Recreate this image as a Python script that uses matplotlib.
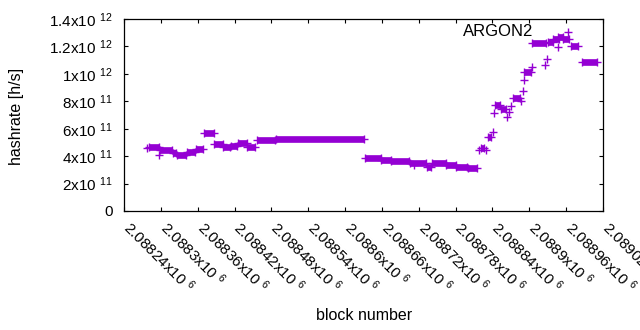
import numpy as np
import matplotlib
matplotlib.use('Agg')
import matplotlib.pyplot as plt
import matplotlib.transforms as mtransforms

plt.rcParams['font.family'] = ['Liberation Sans', 'DejaVu Sans']
plt.rcParams['mathtext.fontset'] = 'custom'
plt.rcParams['mathtext.rm'] = 'Liberation Sans'
plt.rcParams['mathtext.default'] = 'regular'

# отрезки с постоянным хешрейтом: начало, конец, значение
seg_start = [2088280, 2088299, 2088319, 2088326, 2088342, 2088357, 2088371, 2088387,
             2088402, 2088414, 2088425, 2088441, 2088457, 2088487, 2088632, 2088659,
             2088675, 2088705, 2088733, 2088742, 2088765, 2088781, 2088800, 2088821,
             2088832, 2088844, 2088854, 2088873, 2088892, 2088905, 2088931, 2088939,
             2088947, 2088955, 2088968, 2088986]
seg_end = [2088297, 2088318, 2088325, 2088341, 2088356, 2088369, 2088386, 2088401,
           2088413, 2088424, 2088440, 2088454, 2088486, 2088630, 2088658, 2088674,
           2088704, 2088731, 2088740, 2088764, 2088780, 2088799, 2088815, 2088827,
           2088838, 2088853, 2088862, 2088885, 2088903, 2088927, 2088938, 2088948,
           2088955, 2088965, 2088979, 2089011]
seg_value = [4.64e11, 4.42e11, 4.20e11, 4.06e11, 4.32e11, 4.50e11, 5.66e11, 4.86e11,
             4.67e11, 4.74e11, 4.93e11, 4.67e11, 5.15e11, 5.25e11, 3.84e11, 3.74e11,
             3.67e11, 3.48e11, 3.18e11, 3.49e11, 3.35e11, 3.23e11, 3.10e11, 4.60e11,
             5.37e11, 7.71e11, 7.42e11, 8.26e11, 1.016e12, 1.223e12, 1.230e12, 1.254e12,
             1.267e12, 1.254e12, 1.201e12, 1.084e12]

# отдельные точки
pt_block = [2088277, 2088297, 2088712, 2088818, 2088830, 2088841, 2088842, 2088863,
            2088867, 2088871, 2088886, 2088889, 2088891, 2088904, 2088925, 2088929,
            2088947, 2088963]
pt_value = [4.59e11, 4.10e11, 3.35e11, 4.45e11, 4.45e11, 5.78e11, 7.17e11, 6.83e11,
            7.24e11, 7.66e11, 8.04e11, 8.75e11, 9.53e11, 1.048e12, 1.065e12, 1.106e12,
            1.198e12, 1.303e12]

xticks = [2088240 + 60 * i for i in range(14)]
yticks = [0, 2e11, 4e11, 6e11, 8e11, 1e12, 1.2e12, 1.4e12]
ytick_labels = ['0', '2x10 $^{11}$', '4x10 $^{11}$', '6x10 $^{11}$', '8x10 $^{11}$',
                '1x10 $^{12}$', '1.2x10 $^{12}$', '1.4x10 $^{12}$']

color = '#9400d3'

fig = plt.figure(figsize=(6.4, 3.3), dpi=100)
ax = fig.add_axes([124 / 640, 1 - 211 / 330, 479 / 640, 192 / 330])

ax.hlines(seg_value, seg_start, seg_end, colors=color, lw=4.8)
ax.plot(seg_start + seg_end, seg_value + seg_value, '+', color=color, ms=5.5, mew=1.0)
ax.plot(pt_block, pt_value, '+', color=color, ms=5.5, mew=1.0)

ax.set_xlim(2088240, 2089020)
ax.set_ylim(0, 1.4e12)
ax.set_xticks(xticks)
ax.set_xticklabels(['%gx10 $^{6}$' % (v / 1e6) for v in xticks],
                   rotation=-45, ha='left', va='top', rotation_mode='anchor')
ax.set_yticks(yticks)
ax.set_yticklabels(ytick_labels)
ax.tick_params(direction='in', length=3, width=0.8, top=True, right=True,
               labelsize=11, colors='black')
ax.tick_params(axis='y', pad=8)
ax.tick_params(axis='x', pad=6)
shift = mtransforms.ScaledTranslation(9 / 100, 1 / 100, fig.dpi_scale_trans)
for lbl in ax.get_xticklabels():
    lbl.set_transform(lbl.get_transform() + shift)
for s in ax.spines.values():
    s.set_linewidth(0.9)

ax.text(0.855, 0.935, 'ARGON2', transform=ax.transAxes, ha='right', va='center', fontsize=12)
fig.text(17 / 640, 1 - 116 / 330, 'hashrate [h/s]', rotation=90, ha='center', va='center', fontsize=11.5)
fig.text(364 / 640, 1 - 316 / 330, 'block number', ha='center', va='center', fontsize=11.5)

fig.savefig('out.png', dpi=100)
